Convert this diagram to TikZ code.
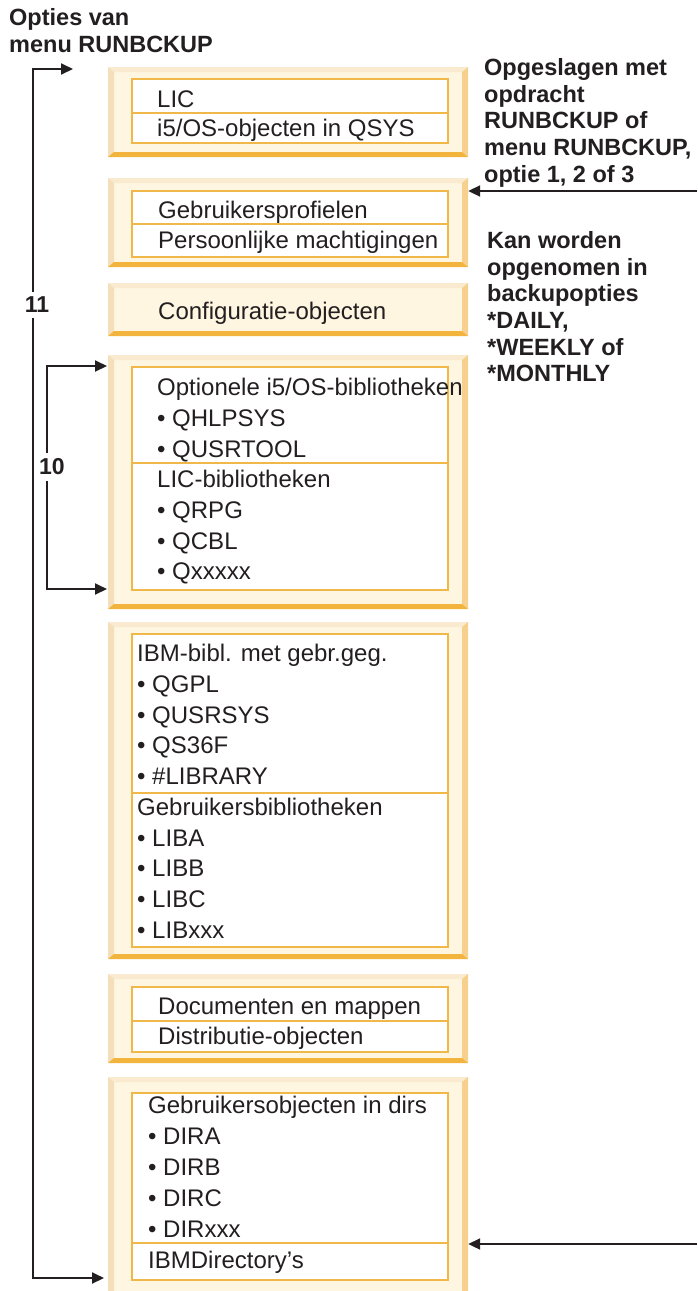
\documentclass[tikz,border=0pt]{standalone}
\usepackage{fontspec}
\setmainfont{Liberation Sans}
\usetikzlibrary{arrows.meta}
\definecolor{cream}{HTML}{FEF6E1}
\definecolor{bevtop}{HTML}{F9EAD0}
\definecolor{bevleft}{HTML}{F4DFBA}
\definecolor{bevright}{HTML}{F6D08C}
\definecolor{bevbot}{HTML}{F2B43C}
\definecolor{rim}{HTML}{F0B848}
\definecolor{ink}{HTML}{231F20}

\begin{document}
\begin{tikzpicture}[x=1pt,y=-1pt,
  outerbox/.style={rectangle, inner sep=0pt, fill=cream,
    path picture={
      \coordinate (pa) at (path picture bounding box.north west);
      \coordinate (pb) at (path picture bounding box.north east);
      \coordinate (pc) at (path picture bounding box.south east);
      \coordinate (pd) at (path picture bounding box.south west);
      \fill[bevtop] (pa) -- (pb) -- ([shift={(-6pt,-5pt)}]pb) -- ([shift={(6pt,-5pt)}]pa) -- cycle;
      \fill[bevleft] (pa) -- ([shift={(6pt,-5pt)}]pa) -- ([shift={(6pt,5pt)}]pd) -- (pd) -- cycle;
      \fill[bevright] (pb) -- (pc) -- ([shift={(-6pt,5pt)}]pc) -- ([shift={(-6pt,-5pt)}]pb) -- cycle;
      \fill[bevbot] (pd) -- (pc) -- ([shift={(-6pt,5pt)}]pc) -- ([shift={(6pt,5pt)}]pd) -- cycle;
    }},
  innerbox/.style={rectangle, inner sep=0pt, fill=white, draw=rim, line width=1.5pt},
  divider/.style={draw=rim, line width=1.2pt},
  txt/.style={anchor=north west, inner sep=0pt, align=left, text=ink,
    font=\fontsize{24}{30.7}\selectfont},
  note/.style={anchor=north west, inner sep=0pt, align=left, text=ink,
    font=\bfseries\fontsize{23.5}{26.6}\selectfont},
  num/.style={fill=white, inner xsep=1pt, inner ysep=5.5pt, text=ink,
    font=\bfseries\fontsize{23}{23}\selectfont},
  conn/.style={line width=2pt, draw=ink},
  tipped/.style={conn, {Triangle[length=12pt,width=11pt]}-{Triangle[length=12pt,width=11pt]}},
  intip/.style={conn, -{Triangle[length=12pt,width=11pt]}}
]
\useasboundingbox (0,0) rectangle (697,1291);

% ---- outer bevelled boxes
\node[outerbox, minimum width=360pt, minimum height=90pt]  (b1) at (288,112) {};
\node[outerbox, minimum width=360pt, minimum height=89pt]  (b2) at (288,222.5) {};
\node[outerbox, minimum width=360pt, minimum height=53pt]  (b3) at (288,309.5) {};
\node[outerbox, minimum width=360pt, minimum height=254pt] (b4) at (288,482) {};
\node[outerbox, minimum width=360pt, minimum height=337pt] (b5) at (288,790.5) {};
\node[outerbox, minimum width=360pt, minimum height=89pt]  (b6) at (288,1018.5) {};
\node[outerbox, minimum width=360pt, minimum height=219pt] (b7) at (288,1186.5) {};

% ---- inner white panels
\node[innerbox, minimum width=316pt, minimum height=64pt]  (i1) at (290,111) {};
\node[innerbox, minimum width=316pt, minimum height=66pt]  (i2) at (290,224) {};
\node[innerbox, minimum width=316pt, minimum height=223pt] (i4) at (290,478.5) {};
\node[innerbox, minimum width=316pt, minimum height=313pt] (i5) at (290,790.5) {};
\node[innerbox, minimum width=316pt, minimum height=65pt]  (i6) at (290,1019.5) {};
\node[innerbox, minimum width=316pt, minimum height=187pt] (i7) at (290,1186.5) {};

\draw[divider] (i1.west |- 0,113)  -- (i1.east |- 0,113);
\draw[divider] (i2.west |- 0,224)  -- (i2.east |- 0,224);
\draw[divider] (i4.west |- 0,463)  -- (i4.east |- 0,463);
\draw[divider] (i5.west |- 0,793)  -- (i5.east |- 0,793);
\draw[divider] (i6.west |- 0,1021) -- (i6.east |- 0,1021);
\draw[divider] (i7.west |- 0,1243) -- (i7.east |- 0,1243);

% ---- box contents
\node[txt, font=\fontsize{24}{29.5}\selectfont] (t1) at (157,90.2) {LIC\\i5/OS-objecten in QSYS};
\node[txt, font=\fontsize{24}{30}\selectfont] (t2) at (158,201.2) {Gebruikersprofielen\\Persoonlijke machtigingen};
\node[txt] (t3) at (158,302.2) {Configuratie-objecten};
\node[txt] (t4) at (157,378.2) {Optionele i5/OS-bibliotheken\\• QHLPSYS\\• QUSRTOOL\\LIC-bibliotheken\\• QRPG\\• QCBL\\• Qxxxxx};
\node[txt] (t5) at (137,644.2) {IBM-bibl. met gebr.geg.\\• QGPL\\• QUSRSYS\\• QS36F\\• \#LIBRARY\\Gebruikersbibliotheken\\• LIBA\\• LIBB\\• LIBC\\• LIBxxx};
\node[txt, font=\fontsize{24}{30}\selectfont] (t6) at (158,998.2) {Documenten en mappen\\Distributie-objecten};
\node[txt, font=\fontsize{24}{31}\selectfont] (t7) at (148,1096.2) {Gebruikersobjecten in dirs\\• DIRA\\• DIRB\\• DIRC\\• DIRxxx\\IBMDirectory’s};

% ---- headings and notes
\node[note] (h1) at (9,8.5) {Opties van\\menu RUNBCKUP};
\node[note] (h2) at (484,58.5) {Opgeslagen met\\opdracht\\RUNBCKUP of\\menu RUNBCKUP,\\optie 1, 2 of 3};
\node[note] (h3) at (487,231.5) {Kan worden\\opgenomen in\\backupopties\\*DAILY,\\*WEEKLY of\\*MONTHLY};

% ---- option 11 bracket
\coordinate (e11a) at (73,69);
\coordinate (c11a) at (33,69);
\coordinate (c11b) at (33,1278);
\coordinate (e11b) at (104,1278);
\draw[tipped] (e11a) -- (c11a) -- (c11b) -- (e11b);
\node[num] (n11) at (37,305) {11};

% ---- option 10 bracket
\coordinate (e10a) at (107,366);
\coordinate (c10a) at (47,366);
\coordinate (c10b) at (47,589);
\coordinate (e10b) at (107,589);
\draw[tipped] (e10a) -- (c10a) -- (c10b) -- (e10b);
\node[num] (n10) at (52,467) {10};

% ---- incoming arrows from the right edge
\coordinate (r1) at (697,191);
\coordinate (r2) at (697,1244);
\draw[intip] (r1) -- (b2.east |- r1);
\draw[intip] (r2) -- (b7.east |- r2);
\end{tikzpicture}
\end{document}
